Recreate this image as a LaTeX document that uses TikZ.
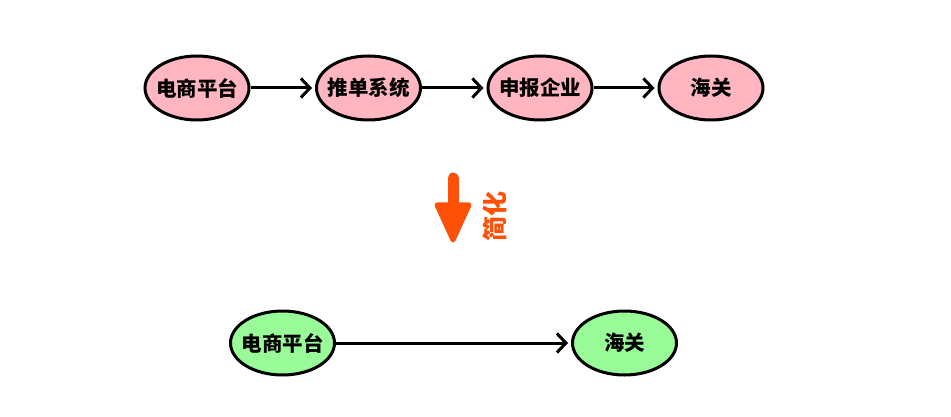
\documentclass[tikz,border=0pt]{standalone}
\usepackage{fontspec}
\newfontfamily\cjk{Noto Sans CJK SC}
\usetikzlibrary{arrows.meta,shapes.geometric}
\definecolor{pinkfill}{HTML}{FFB6C1}
\definecolor{greenfill}{HTML}{98FB98}
\definecolor{simporange}{HTML}{FF5008}
\newcommand{\nolabwidth}[1]{\makebox[0pt]{#1}}
\tikzset{
  ell/.style={ellipse, draw=black, line width=3pt, minimum width=104pt, minimum height=64pt, inner sep=0pt, font=\cjk\bfseries\fontsize{20.5}{20.5}\selectfont},
  pinkell/.style={ell, fill=pinkfill},
  greenell/.style={ell, fill=greenfill},
  conn/.style={line width=3pt, -{Straight Barb[length=9pt,width=19pt,line width=3pt]}, shorten >=3pt}
}
\begin{document}
\begin{tikzpicture}[x=1pt,y=-1pt]
\useasboundingbox (0,0) rectangle (951,417);
\node[pinkell] (a1) at (197,88) {\nolabwidth{电商平台}};
\node[pinkell] (a2) at (368.5,88) {\nolabwidth{推单系统}};
\node[pinkell] (a3) at (540,88) {\nolabwidth{申报企业}};
\node[pinkell] (a4) at (711,88) {\nolabwidth{海关}};
\draw[conn] (a1) -- (a2);
\draw[conn] (a2) -- (a3);
\draw[conn] (a3) -- (a4);
\node[greenell] (b1) at (282.5,343) {\nolabwidth{电商平台}};
\node[greenell] (b2) at (624.5,343) {\nolabwidth{海关}};
\draw[conn] (b1) -- (b2);
% simplify arrow
\coordinate (s1) at (453,178);
\coordinate (s2) at (453,212);
\draw[simporange, line width=11pt, line cap=round] (s1) -- (s2);
\filldraw[simporange, line width=5pt, line join=round] (437,205) -- (469,205) -- (453,240) -- cycle;
\node[text=simporange, rotate=90, font=\cjk\bfseries\fontsize{25}{25}\selectfont] (lbl) at (495,216) {简化};
\end{tikzpicture}
\end{document}
